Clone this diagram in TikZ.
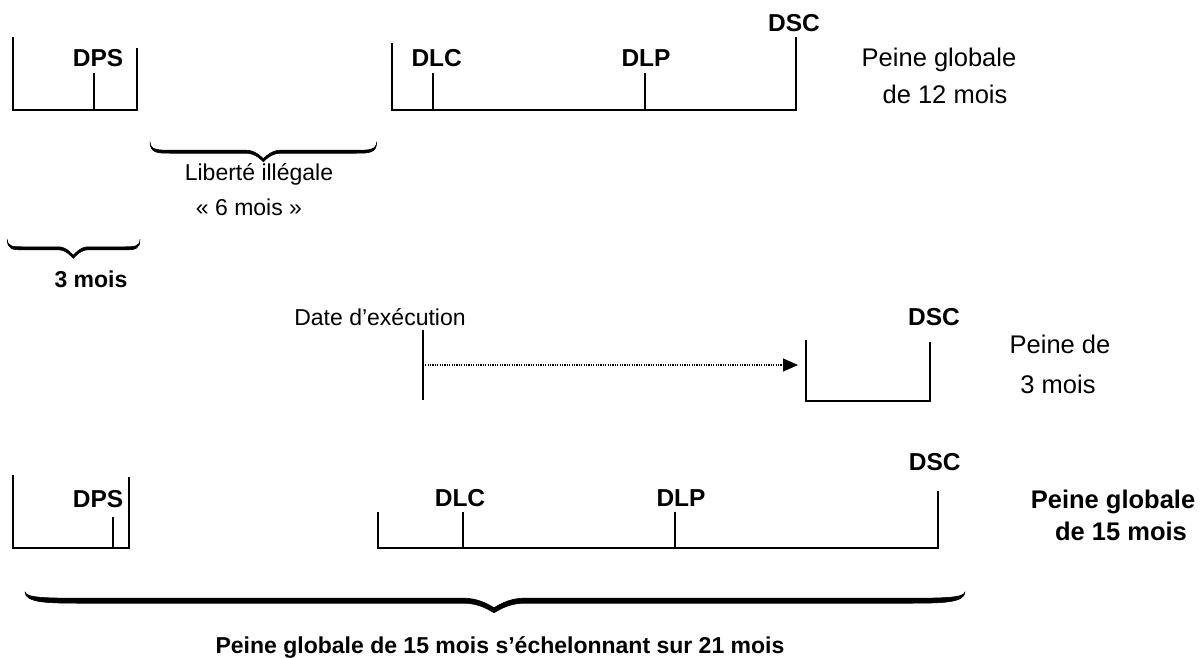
\documentclass[tikz,border=0pt]{standalone}
\usepackage{fontspec}
\setmainfont{Liberation Sans}
\usetikzlibrary{arrows.meta}

% Filled curly brace opening downwards.
% #1 left end x, #2 right end x, #3 tip x, #4 end y, #5 bar depth,
% #6 tip depth, #7 bar thickness, #8 end radius, #9 tip radius
\newcommand\bracefill[9]{%
  \filldraw[line width=0.6pt] ({#1},{#4})
    .. controls ({#1},{#4+#5-#7/2}) and ({#1+0.4*#8},{#4+#5-#7/2}) .. ({#1+#8},{#4+#5-#7/2})
    -- ({#3-#9},{#4+#5-#7/2})
    .. controls ({#3-0.45*#9},{#4+#5-#7/2}) and ({#3-0.08*#9},{#4+#6-#7-1}) .. ({#3},{#4+#6-#7})
    .. controls ({#3+0.08*#9},{#4+#6-#7-1}) and ({#3+0.45*#9},{#4+#5-#7/2}) .. ({#3+#9},{#4+#5-#7/2})
    -- ({#2-#8},{#4+#5-#7/2})
    .. controls ({#2-0.4*#8},{#4+#5-#7/2}) and ({#2},{#4+#5-#7/2}) .. ({#2},{#4})
    .. controls ({#2},{#4+#5+#7/2}) and ({#2-0.4*#8},{#4+#5+#7/2}) .. ({#2-#8},{#4+#5+#7/2})
    -- ({#3+#9},{#4+#5+#7/2})
    .. controls ({#3+0.45*#9},{#4+#5+#7/2}) and ({#3+0.08*#9},{#4+#6-1}) .. ({#3},{#4+#6})
    .. controls ({#3-0.08*#9},{#4+#6-1}) and ({#3-0.45*#9},{#4+#5+#7/2}) .. ({#3-#9},{#4+#5+#7/2})
    -- ({#1+#8},{#4+#5+#7/2})
    .. controls ({#1+0.4*#8},{#4+#5+#7/2}) and ({#1},{#4+#5+#7/2}) .. ({#1},{#4}) -- cycle;%
}

\tikzset{
  lbl/.style={inner sep=0pt, anchor=base, font=\fontsize{23}{27}\selectfont},
  rlbl/.style={inner sep=0pt, anchor=base, font=\fontsize{25.5}{30}\selectfont},
  blbl/.style={inner sep=0pt, anchor=base, font=\fontsize{23}{27}\selectfont\bfseries},
  dlbl/.style={inner sep=0pt, anchor=base, font=\fontsize{24.5}{29}\selectfont\bfseries},
  rblbl/.style={inner sep=0pt, anchor=base, font=\fontsize{25.5}{30}\selectfont\bfseries},
  bar/.style={line width=2.2pt, line join=miter},
  tick/.style={line width=2.2pt},
  dotarrow/.style={line width=1.2pt, dash pattern=on 1.2pt off 1.2pt,
                   -{Triangle[length=15pt,width=13pt]}}
}

\begin{document}
\begin{tikzpicture}[x=1pt, y=-1pt]
  \useasboundingbox (0,0) rectangle (1204,658);

  % ---------- first sentence: DPS block, then DLC / DLP / DSC ----------
  \coordinate (a1) at (13.3,36.7);
  \coordinate (a2) at (136.7,47.7);
  \coordinate (a3) at (136.7,110);
  \draw[bar] (a1) |- (a3) -- (a2);
  \coordinate (dpsA) at (94.3,73.3);
  \coordinate (dpsAb) at (94.3,110);
  \draw[tick] (dpsA) -- (dpsAb);
  \node[dlbl] (dps1) at (98,66.7) {DPS};

  \coordinate (b1) at (392.3,43.3);
  \coordinate (b2) at (796,36.7);
  \coordinate (b3) at (796,110);
  \draw[bar] (b1) |- (b3) -- (b2);
  \coordinate (dlcA) at (433.3,73.3);
  \coordinate (dlcAb) at (433.3,110);
  \coordinate (dlpA) at (645,73.3);
  \coordinate (dlpAb) at (645,110);
  \draw[tick] (dlcA) -- (dlcAb);
  \draw[tick] (dlpA) -- (dlpAb);
  \node[dlbl] (dlc1) at (436.7,66.7) {DLC};
  \node[dlbl] (dlp1) at (646,66.7) {DLP};
  \node[dlbl] (dsc1) at (794,31.7) {DSC};

  \node[rlbl] (pg12a) at (939,66.7) {Peine globale};
  \node[rlbl] (pg12b) at (945,103.3) {de 12 mois};

  % unlawful freedom and the served part
  \bracefill{150}{376.7}{263.3}{141.7}{10}{20}{3}{20}{17}
  \node[lbl] (lib1) at (259,180) {Liberté illégale};
  \node[lbl] (lib2) at (249,215) {« 6 mois »};

  \bracefill{7.3}{140}{73.3}{239.3}{9}{19}{3}{15}{15}
  \node[blbl] (trois) at (91,287) {3 mois};

  % ---------- second sentence ----------
  \node[lbl] (exec) at (380,325) {Date d’exécution};
  \coordinate (e1) at (422.7,330);
  \coordinate (e2) at (422.7,400);
  \draw[tick] (e1) -- (e2);
  \coordinate (eStart) at (422.7,365);
  \coordinate (eEnd) at (798,365);
  \draw[dotarrow] (eStart) -- (eEnd);

  \coordinate (c1) at (806,340);
  \coordinate (c2) at (930,341.7);
  \coordinate (c3) at (930,401);
  \draw[bar] (c1) |- (c3) -- (c2);
  \node[dlbl] (dsc2) at (934,325) {DSC};
  \node[rlbl] (p3a) at (1060,353) {Peine de};
  \node[rlbl] (p3b) at (1058,393) {3 mois};

  % ---------- combined sentence ----------
  \coordinate (d1) at (13.3,475);
  \coordinate (d2) at (129.3,476.7);
  \coordinate (d3) at (129.3,548.3);
  \draw[bar] (d1) |- (d3) -- (d2);
  \coordinate (dpsB) at (113.3,516.7);
  \coordinate (dpsBb) at (113.3,548.3);
  \draw[tick] (dpsB) -- (dpsBb);
  \node[dlbl] (dps2) at (98,507.3) {DPS};

  \coordinate (f1) at (378.3,511.7);
  \coordinate (f2) at (937.7,490.7);
  \coordinate (f3) at (937.7,548.3);
  \draw[bar] (f1) |- (f3) -- (f2);
  \coordinate (dlcB) at (463.3,511.7);
  \coordinate (dlcBb) at (463.3,548.3);
  \coordinate (dlpB) at (675,511.7);
  \coordinate (dlpBb) at (675,548.3);
  \draw[tick] (dlcB) -- (dlcBb);
  \draw[tick] (dlpB) -- (dlpBb);
  \node[dlbl] (dlc2) at (460,506.7) {DLC};
  \node[dlbl] (dlp2) at (681,506.7) {DLP};
  \node[dlbl] (dsc3) at (934.7,470) {DSC};

  \node[rblbl] (pg15a) at (1113,508.3) {Peine globale};
  \node[rblbl] (pg15b) at (1121,540) {de 15 mois};

  \bracefill{25}{965}{494}{591.7}{9}{21}{5}{60}{30}
  \node[blbl] (total) at (500,653) {Peine globale de 15 mois s’échelonnant sur 21 mois};
\end{tikzpicture}
\end{document}
